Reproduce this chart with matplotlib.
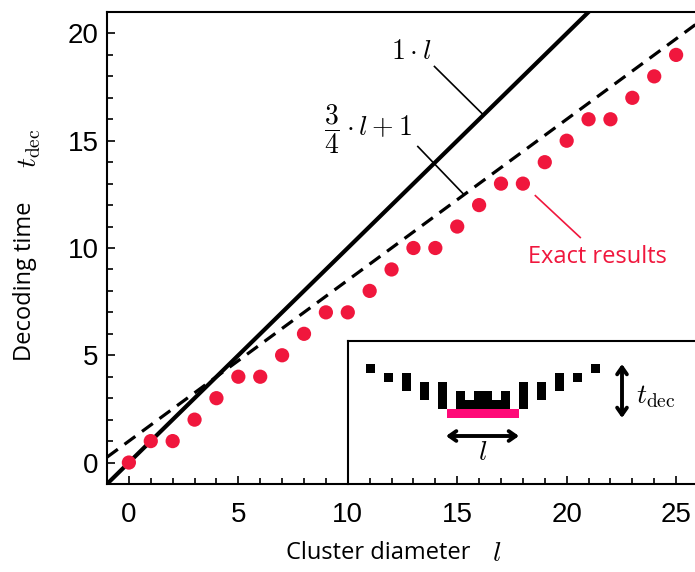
import matplotlib
matplotlib.use("Agg")
import matplotlib.pyplot as plt
from matplotlib.patches import Rectangle
from matplotlib.ticker import MultipleLocator
import numpy as np

plt.rcParams['mathtext.fontset'] = 'cm'

# data
cluster_diameter = list(range(0, 26))
decoding_time = [0, 1, 1, 2, 3, 4, 4, 5, 6, 7, 7, 8, 9, 10, 10, 11, 12, 13, 13, 14, 15, 16, 16, 17, 18, 19]
x_ticks = [0, 5, 10, 15, 20, 25]
y_ticks = [0, 5, 10, 15, 20]

# inset schematic: (column, top row, height)
inset_blocks = [(0, 0, 1), (2, 1, 1), (4, 1, 2), (6, 2, 2), (8, 2, 3),
                (10, 3, 2), (11, 4, 1), (12, 3, 2), (13, 3, 2), (14, 4, 1), (15, 3, 2),
                (17, 2, 3), (19, 2, 2), (21, 1, 2), (23, 1, 1), (25, 0, 1)]
inset_bar = (9, 5, 8)  # start column, row, width

W, H = 695, 572
fig = plt.figure(figsize=(W / 100, H / 100), dpi=100)

def fx(px):
    return px / W

def fy(py):
    return 1 - py / H

ax = fig.add_axes([fx(107), fy(484), fx(698) - fx(107), fy(12) - fy(484)])
ax.set_xlim(-1, 26)
ax.set_ylim(-1, 21)

xs = np.array([-1, 26])
ax.plot(xs, 1 * xs, color='black', lw=3.0, solid_capstyle='butt', zorder=2)
ax.plot(xs, 0.75 * xs + 1, color='black', lw=2.3, dashes=(4.2, 2.6), zorder=2)
ax.scatter(cluster_diameter, decoding_time, s=105, color='#f0173d', edgecolors='none', zorder=3, clip_on=False)

for s in ['left', 'bottom', 'top', 'right']:
    ax.spines[s].set_linewidth(1.5)

ax.xaxis.set_minor_locator(MultipleLocator(1))
ax.yaxis.set_minor_locator(MultipleLocator(1))
ax.set_xticks(x_ticks)
ax.set_yticks(y_ticks)
ax.tick_params(which='both', direction='in', top=False, right=False, width=1.2)
ax.tick_params(which='major', length=6)
ax.tick_params(which='minor', length=4)
ax.tick_params(axis='x', which='major', pad=13)
ax.tick_params(axis='y', which='major', pad=6)
for lab in ax.get_xticklabels() + ax.get_yticklabels():
    lab.set_fontfamily('Liberation Sans')
    lab.set_fontsize(20)

# axis labels
fig.text(fx(378), fy(553), 'Cluster diameter', fontfamily='Open Sans', fontsize=17, ha='center', va='center')
fig.text(fx(497), fy(553), r'$l$', fontsize=20, ha='center', va='center')
fig.text(fx(25), fy(281), 'Decoding time', fontfamily='Open Sans', fontsize=17, ha='center', va='center', rotation=90)
fig.text(fx(29), fy(148), r'$t_{\mathrm{dec}}$', fontsize=20, ha='center', va='center', rotation=90)

# annotations
ax.text(12.9, 19.2, r'$1\cdot l$', fontsize=20, ha='center', va='center')
ax.plot([13.96, 16.2], [18.46, 16.2], color='black', lw=1.2, zorder=2)
ax.text(10.95, 15.55, r'$\dfrac{3}{4}\cdot l+1$', fontsize=20, ha='center', va='center')
ax.plot([13.2, 15.3], [14.73, 12.5], color='black', lw=1.2, zorder=2)
ax.text(21.4, 9.6, 'Exact results', fontfamily='Open Sans', fontsize=17, color='#f0173d', ha='center', va='center')
ax.plot([18.57, 20.62], [12.44, 10.49], color='#f0173d', lw=1.2, zorder=2)

# inset
ins = fig.add_axes([fx(348), fy(484), fx(700) - fx(348), fy(341) - fy(484)])
ins.set_xlim(348, 700)
ins.set_ylim(484, 341)
ins.patch.set_alpha(0)
for s in ['bottom', 'right']:
    ins.spines[s].set_visible(False)
for s in ['left', 'top']:
    ins.spines[s].set_linewidth(1.5)
ins.set_xticks([])
ins.set_yticks([])

u = 9
x0, y0 = 366, 364
for (c, r, h) in inset_blocks:
    ins.add_patch(Rectangle((x0 + c * u, y0 + r * u), u, h * u, facecolor='black', edgecolor='none'))
c, r, w = inset_bar
ins.add_patch(Rectangle((x0 + c * u, y0 + r * u), w * u, u, facecolor='#ff0a78', edgecolor='none'))

ins.annotate('', xy=(446, 436), xytext=(519, 436),
             arrowprops=dict(arrowstyle='<->,head_length=0.5,head_width=0.35', lw=2.8, color='black',
                             shrinkA=0, shrinkB=0))
ins.text(483, 452, r'$l$', fontsize=20, ha='center', va='center')
ins.annotate('', xy=(622, 364), xytext=(622, 418),
             arrowprops=dict(arrowstyle='<->,head_length=0.5,head_width=0.35', lw=2.8, color='black',
                             shrinkA=0, shrinkB=0))
ins.text(636, 396, r'$t_{\mathrm{dec}}$', fontsize=20, ha='left', va='center')

fig.savefig('out.png', dpi=100)
